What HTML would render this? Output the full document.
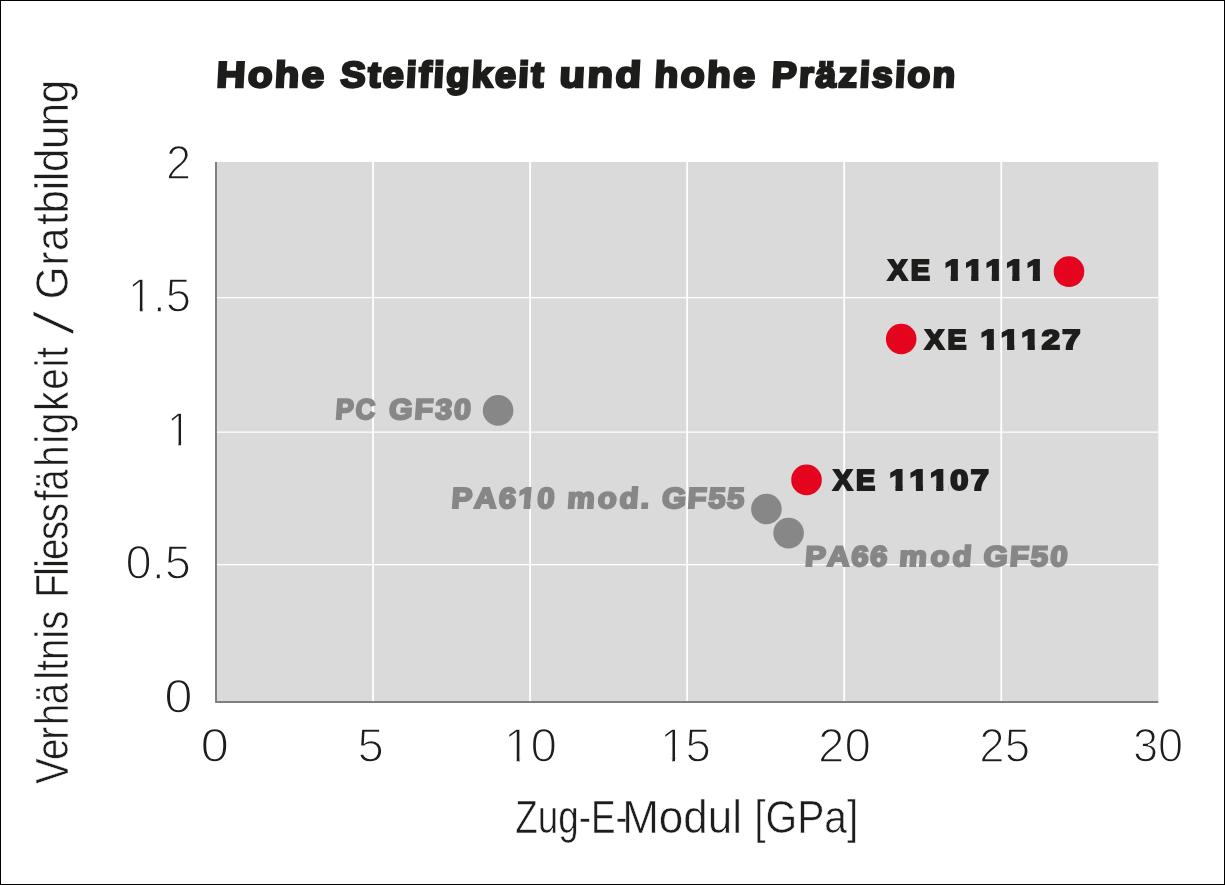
<!DOCTYPE html>
<html lang="de">
<head>
<meta charset="utf-8">
<title>Hohe Steifigkeit und hohe Präzision</title>
<style>
html,body{margin:0;padding:0;background:#fff;}
body{width:1225px;height:885px;overflow:hidden;font-family:"Liberation Sans",sans-serif;}
svg{display:block;position:absolute;left:0;top:0;will-change:transform;}
svg text{font-family:"Liberation Sans",sans-serif;stroke-linejoin:miter;white-space:pre;font-kerning:none;}
</style>
</head>
<body>
<svg width="1225" height="885" viewBox="0 0 1225 885">
<rect x="0" y="0" width="1225" height="885" fill="#ffffff"/>
<rect x="0.5" y="0.5" width="1224" height="884" fill="none" stroke="#000000" stroke-width="1"/>
<defs>
<clipPath id="c6_0"><rect x="115.33" y="-80" width="106.88" height="75.56"/><rect x="147.37" y="-5.44" width="4.35" height="2.15"/><rect x="148.15" y="-3.59" width="2.79" height="40"/><rect x="164.23" y="-5.44" width="9.08" height="40"/><rect x="175.13" y="-5.44" width="27.31" height="40"/></clipPath>
<clipPath id="c7_0"><rect x="165.51" y="-80" width="66.76" height="75.56"/><rect x="197.56" y="-5.44" width="4.35" height="2.15"/><rect x="198.34" y="-3.59" width="2.79" height="40"/></clipPath>
<clipPath id="c12_0"><rect x="488.57" y="-80" width="93.51" height="75.56"/><rect x="520.62" y="-5.44" width="4.35" height="2.15"/><rect x="521.4" y="-3.59" width="2.79" height="40"/><rect x="534.95" y="-5.44" width="27.5" height="40"/></clipPath>
<clipPath id="c13_0"><rect x="676.93" y="-80" width="93.51" height="75.56"/><rect x="708.98" y="-5.44" width="4.35" height="2.15"/><rect x="709.76" y="-3.59" width="2.79" height="40"/><rect x="723.37" y="-5.44" width="27.31" height="40"/></clipPath>
<clipPath id="c17_1"><rect x="808.7" y="-80" width="128.03" height="74.36"/><rect x="833.52" y="-6.64" width="7.75" height="2.15"/><rect x="834.3" y="-4.79" width="6.19" height="40"/><rect x="851.52" y="-6.64" width="7.75" height="2.15"/><rect x="852.3" y="-4.79" width="6.19" height="40"/><rect x="869.53" y="-6.64" width="7.75" height="2.15"/><rect x="870.31" y="-4.79" width="6.19" height="40"/><rect x="887.54" y="-6.64" width="7.75" height="2.15"/><rect x="888.32" y="-4.79" width="6.19" height="40"/><rect x="905.54" y="-6.64" width="7.75" height="2.15"/><rect x="906.32" y="-4.79" width="6.19" height="40"/></clipPath>
<clipPath id="c18_1"><rect x="830.9" y="-80" width="126.82" height="74.41"/><rect x="855.62" y="-6.59" width="7.69" height="2.15"/><rect x="856.4" y="-4.74" width="6.13" height="40"/><rect x="873.38" y="-6.59" width="7.69" height="2.15"/><rect x="874.16" y="-4.74" width="6.13" height="40"/><rect x="891.14" y="-6.59" width="7.69" height="2.15"/><rect x="891.92" y="-4.74" width="6.13" height="40"/><rect x="902.57" y="-6.59" width="18.85" height="40"/><rect x="920.57" y="-6.59" width="18.5" height="40"/></clipPath>
<clipPath id="c19_1"><rect x="765.37" y="-80" width="128.03" height="74.36"/><rect x="790.19" y="-6.64" width="7.75" height="2.15"/><rect x="790.97" y="-4.79" width="6.19" height="40"/><rect x="808.2" y="-6.64" width="7.75" height="2.15"/><rect x="808.98" y="-4.79" width="6.19" height="40"/><rect x="826.2" y="-6.64" width="7.75" height="2.15"/><rect x="826.98" y="-4.79" width="6.19" height="40"/><rect x="837.93" y="-6.64" width="18.89" height="40"/><rect x="856.03" y="-6.64" width="18.7" height="40"/></clipPath>
<clipPath id="c21_0"><rect x="401.09" y="-80" width="313.21" height="74.35"/><rect x="420.43" y="-6.65" width="21.57" height="40"/><rect x="440.42" y="-6.65" width="24.61" height="40"/><rect x="463.57" y="-6.65" width="19.18" height="40"/><rect x="487.99" y="-6.65" width="7.77" height="2.15"/><rect x="488.77" y="-4.8" width="6.21" height="40"/><rect x="499.69" y="-6.65" width="18.96" height="40"/><rect x="528.24" y="-6.65" width="27.22" height="40"/><rect x="556" y="-6.65" width="20.61" height="40"/><rect x="576.32" y="-6.65" width="19.78" height="40"/><rect x="597.11" y="-6.65" width="9.28" height="40"/><rect x="615.99" y="-6.65" width="24.72" height="40"/><rect x="640.65" y="-6.65" width="19.87" height="40"/><rect x="658.84" y="-6.65" width="19.59" height="40"/><rect x="676.5" y="-6.65" width="19.59" height="40"/></clipPath>
</defs>
<!-- plot area -->
<rect x="216.0" y="162.0" width="942.3" height="540.0" fill="#dadada"/>
<g stroke="#ffffff" fill="none">
<line x1="373.05" y1="162.0" x2="373.05" y2="702.0" stroke-width="1.8"/>
<line x1="530.10" y1="162.0" x2="530.10" y2="702.0" stroke-width="1.8"/>
<line x1="687.15" y1="162.0" x2="687.15" y2="702.0" stroke-width="1.8"/>
<line x1="844.20" y1="162.0" x2="844.20" y2="702.0" stroke-width="1.8"/>
<line x1="1001.25" y1="162.0" x2="1001.25" y2="702.0" stroke-width="1.8"/>
<line x1="216.0" y1="297.50" x2="1158.3" y2="297.50" stroke-width="1.25"/>
<line x1="216.0" y1="432.00" x2="1158.3" y2="432.00" stroke-width="1.25"/>
<line x1="216.0" y1="564.60" x2="1158.3" y2="564.60" stroke-width="1.25"/>
</g>
<path d="M216.0 162.0V702.0H1158.3" fill="none" stroke="#808080" stroke-width="2" stroke-linejoin="round"/>
<!-- data points -->
<circle cx="1069.0" cy="271.6" r="15.3" fill="#e4041e"/>
<circle cx="901.2" cy="339.0" r="15.3" fill="#e4041e"/>
<circle cx="806.5" cy="479.9" r="15.3" fill="#e4041e"/>
<circle cx="498.1" cy="410.4" r="15.3" fill="#878787"/>
<circle cx="766.4" cy="509.0" r="15.3" fill="#878787"/>
<circle cx="788.6" cy="533.1" r="15.3" fill="#878787"/>
<g class="title">
<text transform="translate(0,86.7) skewX(-3) scale(1.11,1)" font-size="36.05" font-weight="700" fill="#1d1d1b" stroke="#1d1d1b" stroke-width="2.6" x="194.65 222.88 247.1 271.32" y="0">Hohe</text>
<text transform="translate(0,86.7) skewX(-3) scale(1.0451,1)" font-size="36.05" font-weight="700" fill="#1d1d1b" stroke="#1d1d1b" stroke-width="2.6" x="325.3 351.54 365.74 387.99 400.21 414.41 426.62 450.84 473.09 495.34 507.55" y="0">Steifigkeit</text>
<text transform="translate(0,86.7) skewX(-3) scale(1.1571,1)" font-size="36.05" font-weight="700" fill="#1d1d1b" stroke="#1d1d1b" stroke-width="2.6" x="483.02 507.24 531.46" y="0">und</text>
<text transform="translate(0,86.7) skewX(-3) scale(1.0813,1)" font-size="36.05" font-weight="700" fill="#1d1d1b" stroke="#1d1d1b" stroke-width="2.6" x="604.9 629.12 653.34 677.56" y="0">hohe</text>
<text transform="translate(0,86.7) skewX(-3) scale(1.0312,1)" font-size="36.05" font-weight="700" fill="#1d1d1b" stroke="#1d1d1b" stroke-width="2.6" x="748 774.25 790.47 812.72 832.95 845.16 867.41 879.62 903.84" y="0">Präzision</text>
</g>
<g class="ylabel">
<text transform="translate(67.9,0) rotate(-90) scale(0.8363,1)" font-size="45.93" fill="#1d1d1b" stroke="#ffffff" stroke-width="0.6" x="-937.61 -908.92 -884.5 -867.06 -842.06 -812.44 -802.16 -789.24 -763.55 -753.16 -730.2 -714.82 -688.4 -678.82 -669.69 -645.85 -624.5 -599.06 -586.89 -558.07 -530.45 -519.07 -491.04 -465.93 -439.24 -427.77" y="0">Verhältnis Fliessfähigkeit</text>
</g>
<g class="ylabel">
<text transform="translate(72.9,0) rotate(-90) skewX(-11) scale(1,1)" font-size="55.12" fill="#1d1d1b" stroke="#ffffff" stroke-width="0.6" x="-334.3" y="0">/</text>
</g>
<g class="ylabel">
<text transform="translate(67.9,0) rotate(-90) scale(0.9137,1)" font-size="45.93" fill="#1d1d1b" stroke="#ffffff" stroke-width="0.6" x="-327.45 -290.7 -274.67 -246.37 -233.69 -208.2 -198.03 -188.18 -163.17 -138.15 -113.12" y="0">Gratbildung</text>
</g>
<g class="xlabel">
<text transform="translate(0,832.6) scale(0.8065,1)" font-size="45.64" fill="#1d1d1b" stroke="#ffffff" stroke-width="0.6" x="638.83 666.71 692.09 717.48 732.68 763.12" y="0">Zug-E-</text>
<text transform="translate(0,832.6) scale(0.964,1)" font-size="45.64" fill="#1d1d1b" stroke="#ffffff" stroke-width="0.6" x="645.45 683.47 708.85 734.23 759.61" y="0">Modul</text>
<text transform="translate(0,832.6) scale(0.8916,1)" font-size="45.64" fill="#1d1d1b" stroke="#ffffff" stroke-width="0.6" x="845.93 858.61 894.11 924.56 949.94" y="0">[GPa]</text>
</g>
<g class="yticks">
<text transform="translate(0,178.95) scale(0.9404,1)" font-size="48.11" fill="#1d1d1b" stroke="#ffffff" stroke-width="1.5" x="176.66" y="0">2</text>
</g>
<g class="yticks">
<text transform="translate(0,312.45) scale(0.9442,1)" font-size="48.11" fill="#1d1d1b" stroke="#ffffff" stroke-width="1.5" clip-path="url(#c6_0)" x="135.33 162.08 175.45" y="0">1.5</text>
</g>
<g class="yticks">
<text transform="translate(0,445.55) scale(0.9,1)" font-size="48.11" fill="#1d1d1b" stroke="#ffffff" stroke-width="1.5" clip-path="url(#c7_0)" x="185.51" y="0">1</text>
</g>
<g class="yticks">
<text transform="translate(0,579.45) scale(0.9792,1)" font-size="48.11" fill="#1d1d1b" stroke="#ffffff" stroke-width="1.5" x="128.2 154.96 168.32" y="0">0.5</text>
</g>
<g class="yticks">
<text transform="translate(0,712.75) scale(1.0605,1)" font-size="48.11" fill="#1d1d1b" stroke="#ffffff" stroke-width="1.5" x="154.84" y="0">0</text>
</g>
<g class="xticks">
<text transform="translate(0,762.15) scale(1.0652,1)" font-size="48.11" fill="#1d1d1b" stroke="#ffffff" stroke-width="1.5" x="188.32" y="0">0</text>
</g>
<g class="xticks">
<text transform="translate(0,762.15) scale(0.9854,1)" font-size="48.11" fill="#1d1d1b" stroke="#ffffff" stroke-width="1.5" x="362.85" y="0">5</text>
</g>
<g class="xticks">
<text transform="translate(0,762.15) scale(0.9911,1)" font-size="48.11" fill="#1d1d1b" stroke="#ffffff" stroke-width="1.5" clip-path="url(#c12_0)" x="508.57 535.33" y="0">10</text>
</g>
<g class="xticks">
<text transform="translate(0,762.15) scale(0.9473,1)" font-size="48.11" fill="#1d1d1b" stroke="#ffffff" stroke-width="1.5" clip-path="url(#c13_0)" x="696.93 723.69" y="0">15</text>
</g>
<g class="xticks">
<text transform="translate(0,762.15) scale(0.9892,1)" font-size="48.11" fill="#1d1d1b" stroke="#ffffff" stroke-width="1.5" x="826.9 853.65" y="0">20</text>
</g>
<g class="xticks">
<text transform="translate(0,762.15) scale(0.948,1)" font-size="48.11" fill="#1d1d1b" stroke="#ffffff" stroke-width="1.5" x="1033.03 1059.78" y="0">25</text>
</g>
<g class="xticks">
<text transform="translate(0,762.15) scale(0.9378,1)" font-size="48.11" fill="#1d1d1b" stroke="#ffffff" stroke-width="1.5" x="1208.08 1234.83" y="0">30</text>
</g>
<g class="label">
<text transform="translate(0,279.7) scale(0.9973,1)" font-size="28.78" font-weight="700" fill="#1d1d1b" stroke="#1d1d1b" stroke-width="2.2" x="890.52 913.32" y="0">XE</text>
<text transform="translate(0,279.7) scale(1.1396,1)" font-size="28.78" font-weight="700" fill="#1d1d1b" stroke="#1d1d1b" stroke-width="2.2" clip-path="url(#c17_1)" x="828.7 846.71 864.71 882.72 900.72" y="0">11111</text>
</g>
<g class="label">
<text transform="translate(0,349.4) scale(1.0011,1)" font-size="28.34" font-weight="700" fill="#1d1d1b" stroke="#1d1d1b" stroke-width="2.2" x="923.94 946.44" y="0">XE</text>
<text transform="translate(0,349.4) scale(1.1522,1)" font-size="28.34" font-weight="700" fill="#1d1d1b" stroke="#1d1d1b" stroke-width="2.2" clip-path="url(#c18_1)" x="850.9 868.66 886.43 904.19 921.95" y="0">11127</text>
</g>
<g class="label">
<text transform="translate(0,490.3) scale(0.995,1)" font-size="28.78" font-weight="700" fill="#1d1d1b" stroke="#1d1d1b" stroke-width="2.2" x="837.54 860.33" y="0">XE</text>
<text transform="translate(0,490.3) scale(1.1322,1)" font-size="28.78" font-weight="700" fill="#1d1d1b" stroke="#1d1d1b" stroke-width="2.2" clip-path="url(#c19_1)" x="785.37 803.38 821.39 839.39 857.4" y="0">11107</text>
</g>
<g class="label ref">
<text transform="translate(0,418.6) skewX(-4) scale(0.9472,1)" font-size="28.63" font-weight="700" fill="#878787" stroke="#878787" stroke-width="2.2" x="353.59 374.69" y="0">PC</text>
<text transform="translate(0,418.6) skewX(-4) scale(1.056,1)" font-size="28.63" font-weight="700" fill="#878787" stroke="#878787" stroke-width="2.2" x="367.83 392.11 411.6 429.52" y="0">GF30</text>
</g>
<g class="label ref">
<text transform="translate(0,507.9) skewX(-4) scale(1.0713,1)" font-size="28.92" font-weight="700" fill="#878787" stroke="#878787" stroke-width="2.2" clip-path="url(#c21_0)" x="421.09 442.3 465.11 483.14 501.14 517.23 528.94 557.47 577.73 597.74 605.78 617.4 641.32 660.55 678.21" y="0">PA610 mod. GF55</text>
</g>
<g class="label ref">
<text transform="translate(0,565.7) skewX(-4) scale(1.0969,1)" font-size="28.34" font-weight="700" fill="#878787" stroke="#878787" stroke-width="2.2" x="733.42 753.68 775.53 792.77 808.53 819.42 847.76 867.91 885.22 896.06 920.03 939.29 957" y="0">PA66 mod GF50</text>
</g>
</svg>
</body>
</html>
